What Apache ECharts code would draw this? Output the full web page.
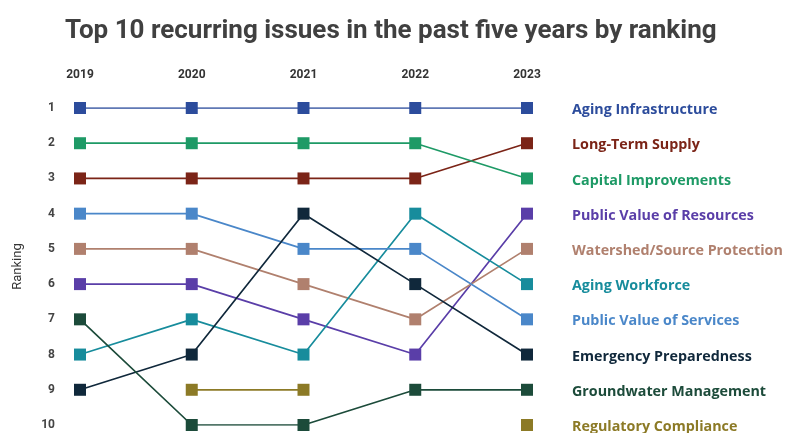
<!DOCTYPE html>
<html>
<head>
<meta charset="utf-8">
<script src="https://cdn.jsdelivr.net/npm/echarts@6/dist/echarts.min.js"></script>
<style>
  html, body { margin: 0; padding: 0; background: #ffffff; }
  #chart { width: 785px; height: 433px; }
</style>
</head>
<body>
<div id="chart"></div>
<script>
// Years shown across the top
const years = ['2019', '2020', '2021', '2022', '2023'];

// Rank of each issue per year (null = not in top 10 that year)
const agingInfrastructure   = [1, 1, 1, 1, 1];
const longTermSupply        = [3, 3, 3, 3, 2];
const capitalImprovements   = [2, 2, 2, 2, 3];
const publicValueResources  = [6, 6, 7, 8, 4];
const watershedProtection   = [5, 5, 6, 7, 5];
const agingWorkforce        = [8, 7, 8, 4, 6];
const publicValueServices   = [4, 4, 5, 5, 7];
const emergencyPreparedness = [9, 8, 4, 6, 8];
const groundwaterManagement = [7, 10, 10, 9, 9];
const regulatoryCompliance  = [null, 9, 9, null, 10];

const issueNames = [
  'Aging Infrastructure', 'Long-Term Supply', 'Capital Improvements',
  'Public Value of Resources', 'Watershed/Source Protection', 'Aging Workforce',
  'Public Value of Services', 'Emergency Preparedness', 'Groundwater Management',
  'Regulatory Compliance'
];
const issueRanks = [
  agingInfrastructure, longTermSupply, capitalImprovements,
  publicValueResources, watershedProtection, agingWorkforce,
  publicValueServices, emergencyPreparedness, groundwaterManagement,
  regulatoryCompliance
];
const issueColors = [
  '#2c4c9c', '#7b2417', '#1e9a66', '#5a3ea8', '#b0806e',
  '#178c9c', '#4a87c9', '#10283b', '#1c4b3a', '#8c7a26'
];

const series = issueNames.map((name, i) => {
  const ranks = issueRanks[i];
  const last = ranks.length - 1;
  return {
    name: name,
    type: 'line',
    symbol: 'rect',
    symbolSize: 12,
    connectNulls: false,
    lineStyle: { width: 1.7, color: issueColors[i] },
    itemStyle: { color: issueColors[i] },
    emphasis: { disabled: true },
    data: ranks.map((v, j) => j === last ? {
      value: v,
      label: {
        show: true,
        position: 'right',
        distance: 39,
        offset: [0, 2],
        formatter: name,
        color: issueColors[i],
        fontFamily: 'Open Sans',
        fontWeight: 'bold',
        fontSize: 14.3
      }
    } : v)
  };
});

const chart = echarts.init(document.getElementById('chart'), null, { renderer: 'canvas' });
chart.setOption({
  animation: false,
  backgroundColor: '#ffffff',
  title: {
    text: 'Top 10 recurring issues in the past five years by ranking',
    left: 60,
    top: 13,
    textStyle: {
      fontFamily: 'Roboto',
      fontWeight: 'bold',
      fontSize: 26,
      color: '#404040'
    }
  },
  grid: { left: 80, right: 258, top: 108, bottom: 8, containLabel: false },
  xAxis: {
    type: 'category',
    data: years,
    position: 'top',
    boundaryGap: false,
    axisLine: { show: false },
    axisTick: { show: false },
    splitLine: { show: false },
    axisLabel: {
      margin: 27,
      color: '#333333',
      fontFamily: 'Roboto',
      fontWeight: 'bold',
      fontSize: 12
    }
  },
  yAxis: {
    type: 'value',
    inverse: true,
    min: 1,
    max: 10,
    interval: 1,
    name: 'Ranking',
    nameLocation: 'middle',
    nameGap: 56,
    nameRotate: 90,
    nameTextStyle: { fontFamily: 'Roboto', fontSize: 13, color: '#333333' },
    axisLine: { show: false },
    axisTick: { show: false },
    splitLine: { show: false },
    axisLabel: {
      margin: 25,
      color: '#444444',
      fontFamily: 'Roboto',
      fontWeight: 'bold',
      fontSize: 12
    }
  },
  series: series
});
</script>
</body>
</html>
